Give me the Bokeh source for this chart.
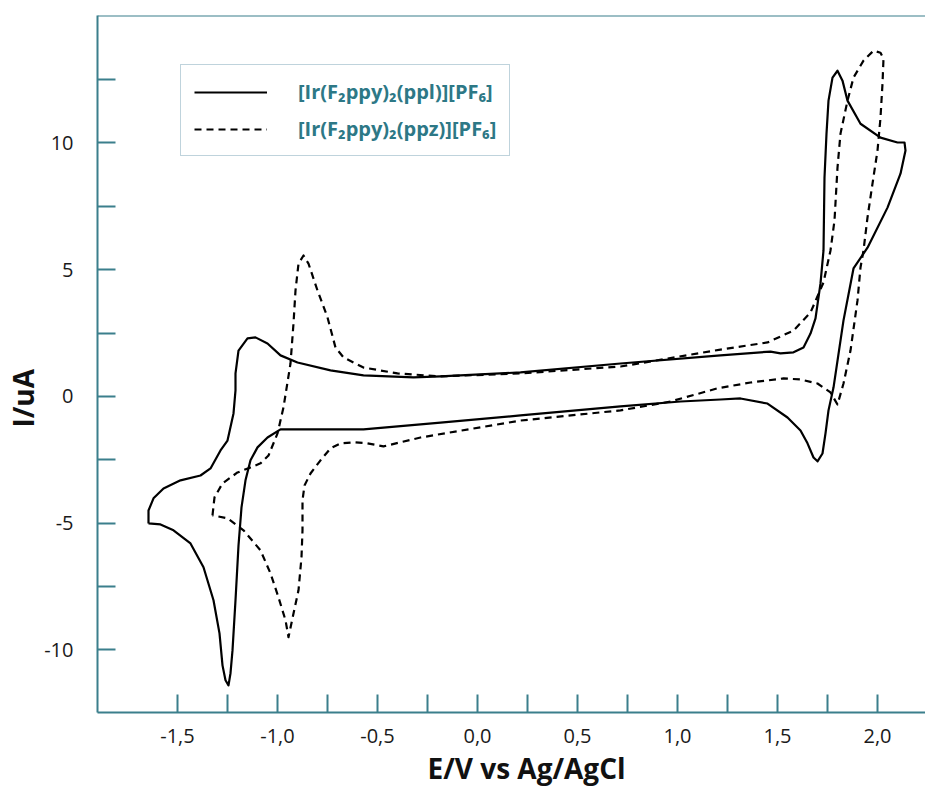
from bokeh.plotting import figure
from bokeh.models import (Range1d, FixedTicker, Span, Legend, LegendItem,
                          CustomJSTickFormatter, Title)
from bokeh.embed import file_html
from bokeh.resources import INLINE

# [Ir(F2ppy)2(ppl)][PF6] -- solid curve (E in V, I in uA), traced as a closed loop
ppl_E = [-1.645, -1.645, -1.62, -1.57, -1.485, -1.385, -1.335, -1.285, -1.25, -1.22,
         -1.21, -1.21, -1.195, -1.15, -1.11, -1.05, -0.985, -0.90, -0.735, -0.57,
         -0.32, -0.185, 0.215, 0.715, 1.215, 1.465, 1.515, 1.58, 1.63, 1.665,
         1.69, 1.715, 1.73, 1.735, 1.745, 1.755, 1.775, 1.80, 1.825, 1.85,
         1.915, 2.015, 2.10, 2.135, 2.14, 2.115, 2.05, 1.95, 1.88, 1.83,
         1.78, 1.755, 1.74, 1.725, 1.70, 1.68, 1.65, 1.615, 1.55, 1.45,
         1.315, 1.215, 1.015, 0.715, 0.215, -0.185, -0.57, -0.985, -1.05, -1.10,
         -1.135, -1.16, -1.18, -1.195, -1.21, -1.225, -1.235, -1.245, -1.26, -1.275,
         -1.29, -1.32, -1.37, -1.435, -1.52, -1.585, -1.645]
ppl_I = [-5.01, -4.50, -4.02, -3.63, -3.31, -3.12, -2.84, -2.13, -1.74, -0.67,
         0.24, 0.91, 1.81, 2.29, 2.33, 2.09, 1.62, 1.34, 1.03, 0.83,
         0.75, 0.79, 0.95, 1.30, 1.62, 1.77, 1.70, 1.74, 1.93, 2.48,
         3.08, 4.46, 5.76, 8.64, 10.37, 11.67, 12.58, 12.85, 12.46, 11.67,
         10.76, 10.21, 10.02, 10.02, 9.70, 8.79, 7.45, 5.87, 5.05, 3.0,
         0.35, -0.55, -1.46, -2.25, -2.56, -2.41, -1.85, -1.34, -0.83, -0.28,
         -0.08, -0.12, -0.20, -0.39, -0.75, -1.03, -1.30, -1.30, -1.62, -2.01,
         -2.52, -3.31, -4.38, -5.88, -8.04, -10.02, -10.92, -11.40, -11.20, -10.61,
         -9.35, -8.04, -6.74, -5.80, -5.28, -5.05, -5.01]

# [Ir(F2ppy)2(ppz)][PF6] -- dashed curve
ppz_E = [-1.325, -1.315, -1.275, -1.20, -1.135, -1.085, -1.045, -1.0, -0.97, -0.935,
         -0.92, -0.91, -0.895, -0.87, -0.845, -0.80, -0.75, -0.71, -0.67, -0.57,
         -0.40, -0.185, 0.215, 0.715, 1.215, 1.45, 1.58, 1.665, 1.73, 1.765,
         1.785, 1.80, 1.815, 1.85, 1.88, 1.93, 1.98, 2.015, 2.03, 2.025,
         2.015, 2.0, 1.975, 1.95, 1.93, 1.915, 1.90, 1.865, 1.83, 1.80,
         1.765, 1.70, 1.615, 1.53, 1.365, 1.20, 0.965, 0.715, 0.215, -0.285,
         -0.47, -0.55, -0.62, -0.685, -0.735, -0.785, -0.835, -0.865, -0.875, -0.875,
         -0.88, -0.895, -0.92, -0.945, -0.96, -0.995, -1.035, -1.085, -1.17, -1.25,
         -1.325]
ppz_I = [-4.69, -3.98, -3.43, -3.00, -2.80, -2.64, -2.33, -1.46, -0.43, 1.30,
         2.88, 4.18, 5.24, 5.56, 5.24, 4.18, 3.12, 1.93, 1.54, 1.14,
         0.91, 0.79, 0.91, 1.18, 1.85, 2.13, 2.60, 3.31, 4.50, 5.76,
         6.94, 9.03, 10.37, 11.67, 12.58, 13.25, 13.64, 13.56, 13.33, 12.34,
         11.0, 9.70, 8.40, 7.06, 5.76, 5.09, 3.79, 1.81, 0.51, -0.32,
         0.16, 0.51, 0.67, 0.71, 0.55, 0.32, -0.20, -0.55, -0.95, -1.62,
         -1.97, -1.85, -1.81, -1.85, -2.05, -2.52, -3.04, -3.51, -4.10, -5.28,
         -6.35, -7.65, -8.56, -9.50, -8.83, -7.93, -6.98, -6.07, -5.28, -4.81,
         -4.69]

x_major = [-1.5, -1.0, -0.5, 0.0, 0.5, 1.0, 1.5, 2.0]
x_minor = [-1.25, -0.75, -0.25, 0.25, 0.75, 1.25, 1.75]
y_major = [-10, -5, 0, 5, 10]
y_minor = [-7.5, -2.5, 2.5, 7.5, 12.5]

series_labels = ["[Ir(F\u2082ppy)\u2082(ppl)][PF\u2086]", "[Ir(F\u2082ppy)\u2082(ppz)][PF\u2086]"]
x_title = "E/V vs Ag/AgCl"
y_title = "I/uA"

AX = "#3b7f8c"
TXT = "#2d7886"

p = figure(width=925, height=792, output_backend="svg", toolbar_location=None,
           x_range=Range1d(-1.9, 2.24), y_range=Range1d(-12.47, 15.03),
           min_border_left=97, min_border_top=15, min_border_right=0, min_border_bottom=80)
p.outline_line_color = None
p.grid.grid_line_color = None
p.background_fill_color = "white"
p.border_fill_color = "white"

r1 = p.line(ppl_E, ppl_I, line_color="black", line_width=2.2, line_join="round")
r2 = p.line(ppz_E, ppz_I, line_color="black", line_width=2.2, line_dash="7 5", line_join="round")

p.xaxis.ticker = FixedTicker(ticks=x_major, minor_ticks=x_minor)
p.yaxis.ticker = FixedTicker(ticks=y_major, minor_ticks=y_minor)
p.xaxis.formatter = CustomJSTickFormatter(code="return tick.toFixed(1).replace('.', ',');")
p.yaxis.formatter = CustomJSTickFormatter(code="return tick.toFixed(0);")

for ax in (p.xaxis[0], p.yaxis[0]):
    ax.axis_line_color = AX
    ax.axis_line_width = 2
    ax.major_tick_line_color = AX
    ax.minor_tick_line_color = AX
    ax.major_tick_line_width = 2
    ax.minor_tick_line_width = 2
    ax.major_tick_in = 18
    ax.major_tick_out = 0
    ax.minor_tick_in = 18
    ax.minor_tick_out = 0
    ax.major_label_text_font = "Open Sans"
    ax.major_label_text_font_size = "20px"
    ax.major_label_text_color = "#1a1a1a"

p.xaxis.major_label_standoff = 16
p.yaxis.major_label_standoff = 24

# axis titles as side titles so that their position along the axis can be matched
xt = Title(text=x_title, align="left", offset=330, standoff=3)
yt = Title(text=y_title, align="left", offset=285, standoff=0)
for t in (xt, yt):
    t.text_font = "Open Sans"
    t.text_font_size = "28px"
    t.text_font_style = "bold"
    t.text_color = "#111111"
p.add_layout(xt, "below")
p.add_layout(yt, "left")

p.add_layout(Span(location=15.03, dimension="width", line_color=AX, line_width=2))

legend = Legend(items=[LegendItem(label=series_labels[0], renderers=[r1]),
                       LegendItem(label=series_labels[1], renderers=[r2])],
                location=(83, 556))
legend.border_line_color = "#7fa8b9"
legend.border_line_width = 1.5
legend.background_fill_color = "white"
legend.background_fill_alpha = 1
legend.label_text_font = "Open Sans"
legend.label_text_font_size = "20px"
legend.label_text_font_style = "bold"
legend.label_text_color = TXT
legend.glyph_width = 73
legend.glyph_height = 20
legend.label_height = 20
legend.label_standoff = 31
legend.spacing = 10
legend.padding = 13
legend.margin = 0
p.add_layout(legend, "center")

open("out.html", "w").write(file_html(p, INLINE))
